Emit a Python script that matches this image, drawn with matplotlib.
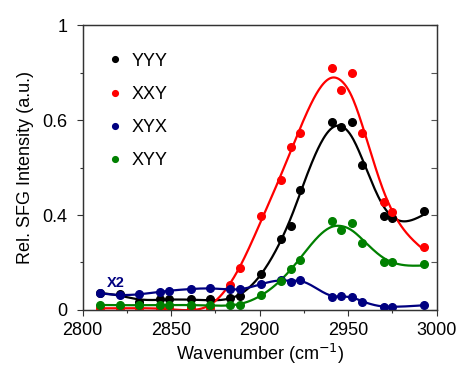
import numpy as np
import matplotlib
matplotlib.use("Agg")
import matplotlib.pyplot as plt

plt.rcParams['font.family'] = ['Liberation Sans', 'DejaVu Sans']

# scan positions (cm-1)
wavenumber = [2810, 2821, 2832, 2844, 2849, 2861, 2872, 2883, 2889, 2901,
              2912, 2918, 2923, 2941, 2946, 2952, 2958, 2970, 2975, 2993]

yyy = [0.070, 0.068, 0.035, 0.045, 0.045, 0.045, 0.045, 0.049, 0.060, 0.152,
       0.299, 0.355, 0.505, 0.790, 0.769, 0.790, 0.611, 0.397, 0.386, 0.417]
xxy = [0.007, 0.007, 0.007, 0.007, 0.007, 0.007, 0.008, 0.105, 0.176, 0.397,
       0.547, 0.688, 0.747, 1.018, 0.926, 0.999, 0.744, 0.453, 0.411, 0.267]
xyx = [0.070, 0.063, 0.066, 0.077, 0.081, 0.088, 0.091, 0.087, 0.087, 0.109,
       0.126, 0.119, 0.126, 0.056, 0.057, 0.056, 0.035, 0.014, 0.014, 0.020]
xyy = [0.021, 0.020, 0.020, 0.020, 0.021, 0.021, 0.021, 0.021, 0.021, 0.063,
       0.122, 0.172, 0.211, 0.376, 0.337, 0.365, 0.283, 0.203, 0.202, 0.192]

labels = ["YYY", "XXY", "XYX", "XYY"]
colors = ["black", "#ff0000", "#000080", "#008000"]
smoothing = [120, 150, 8, 120]

ytick_pos = [0, 0.4, 0.8, 1.2]
ytick_labels = ["0", "0.4", "0.6", "1"]


def smooth_curve(x, y, lam, step=0.5):
    # penalised smoothing (Whittaker) on a fine grid through the points
    x = np.asarray(x, float)
    y = np.asarray(y, float)
    grid = np.arange(x.min(), x.max() + step, step)
    n = len(grid)
    B = np.zeros((len(x), n))
    for i, xi in enumerate(x):
        j = min(int((xi - grid[0]) / step), n - 2)
        t = (xi - grid[j]) / step
        B[i, j] = 1 - t
        B[i, j + 1] = t
    D = np.diff(np.eye(n), 2, axis=0) / step**2
    A = B.T @ B + lam * D.T @ D
    f = np.linalg.solve(A, B.T @ y)
    return grid, f


fig = plt.figure(figsize=(4.64, 3.69), dpi=100)
ax = fig.add_axes([0.178, 0.160, 0.763, 0.772])

for ys, lab, col, lam in zip([yyy, xxy, xyx, xyy], labels, colors, smoothing):
    gx, gy = smooth_curve(wavenumber, ys, lam)
    ax.plot(gx, gy, color=col, lw=1.6, zorder=2)
    ax.plot(wavenumber, ys, 'o', color=col, ms=5.5, label=lab, zorder=3)

ax.text(2819, 0.115, "X2", color="#000080", fontsize=10.5, fontweight="bold",
        ha="center", va="center")

ax.set_xlim(2800, 3000)
ax.set_ylim(0, 1.2)
ax.set_xticks([2800, 2850, 2900, 2950, 3000])
ax.set_xticks([2825, 2875, 2925, 2975], minor=True)
ax.set_yticks(ytick_pos)
ax.set_yticklabels(ytick_labels)
ax.set_yticks([0.2, 0.6, 1.0], minor=True)
ax.tick_params(axis='both', which='major', labelsize=13, length=4, width=0.8,
               direction='out', color='#333333')
ax.tick_params(axis='both', which='minor', length=2.5, width=0.8,
               direction='out', color='#333333')
ax.tick_params(axis='y', which='major', pad=7)
ax.tick_params(axis='x', which='major', pad=5)

ax2 = ax.twinx()
ax2.set_ylim(0, 1.2)
ax2.set_yticks([0, 0.2, 0.4, 0.6, 0.8, 1.0, 1.2])
ax2.tick_params(axis='y', direction='in', length=4, labelright=False,
                color='#555555')

for a in (ax, ax2):
    for s in a.spines.values():
        s.set_linewidth(0.9)
        s.set_color('#333333')

ax.set_xlabel("Wavenumber (cm$^{-1}$)", fontsize=13, labelpad=2)
ax.set_ylabel("Rel. SFG Intensity (a.u.)", fontsize=13, labelpad=6)

ax.legend(loc="upper left", bbox_to_anchor=(0.02, 0.96), frameon=False,
          fontsize=13, markerscale=0.75, handlelength=1.0, handletextpad=0.4,
          labelspacing=0.9)

fig.savefig("out.png", dpi=100)
